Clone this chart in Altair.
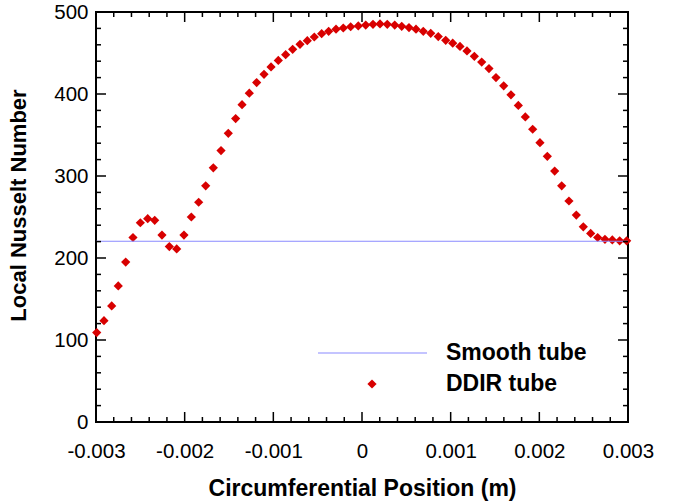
import altair as alt
import pandas as pd

# ---- data ----
position_m = [
    -0.002992, -0.002910, -0.002823, -0.002749, -0.002665, -0.002583, -0.002500, -0.002417,
    -0.002338, -0.002256, -0.002173, -0.002090, -0.002008, -0.001925, -0.001842, -0.001763,
    -0.001677, -0.001590, -0.001508, -0.001425, -0.001353, -0.001271, -0.001188, -0.001105,
    -0.001026, -0.000944, -0.000861, -0.000782, -0.000699, -0.000617, -0.000538, -0.000455,
    -0.000376, -0.000293, -0.000211, -0.000128, -0.000042, 0.000042, 0.000124, 0.000203,
    0.000285, 0.000369, 0.000448, 0.000530, 0.000609, 0.000691, 0.000775, 0.000860,
    0.000944, 0.001023, 0.001105, 0.001184, 0.001267, 0.001350, 0.001432, 0.001511,
    0.001598, 0.001680, 0.001763, 0.001842, 0.001925, 0.002007, 0.002090, 0.002173,
    0.002252, 0.002334, 0.002417, 0.002496, 0.002579, 0.002658, 0.002740, 0.002823,
    0.002906, 0.002985,
]
ddir_nu = [
    109, 123.5, 141.5, 166, 195, 225, 243, 248,
    246, 228, 214, 211, 228, 250, 268, 288,
    310, 331, 352, 370, 387, 401, 414, 424,
    433, 441, 448, 454.5, 460.6, 465, 469.5, 473.5,
    476.5, 479, 480.5, 482, 483, 484, 485, 485.4,
    485, 484, 482.5, 481, 479, 476.5, 474, 470,
    465.5, 462, 458, 452.5, 446, 439, 431, 420,
    410, 399, 386, 372, 357, 340.6, 324, 306,
    288, 269.5, 252.4, 238, 230, 225, 222.8, 222,
    221, 221,
]
smooth_nu = [220.4]
series_names = ["Smooth tube", "DDIR tube"]

x_major = [-0.003, -0.002, -0.001, 0.0, 0.001, 0.002, 0.003]
x_minor = [round(-0.003 + 0.0002 * i, 4) for i in range(31) if i % 5 != 0]
y_major = [0, 100, 200, 300, 400, 500]
y_minor = [20 * i for i in range(26) if i % 5 != 0]

W, H = 532, 410
FONT = "Liberation Sans"
RED = "#d80000"
BLUE = "#8a8aff"

xscale = alt.Scale(domain=[-0.003, 0.003], nice=False, zero=False)
yscale = alt.Scale(domain=[0, 500], nice=False)

XAXIS = alt.Axis(
    values=x_major, grid=False, ticks=False, tickSize=0, domain=False,
    labelExpr="datum.value == 0 ? '0' : (datum.value < 0 ? '-' : '') + format(abs(datum.value), '.3f')",
    labelFont=FONT, labelFontSize=20.5, labelColor="black", labelPadding=19,
    labelFlush=False, labelOverlap=False,
    title="Circumferential Position (m)", titleFont=FONT, titleFontSize=23,
    titleFontWeight="bold", titleColor="black", titleY=55, titleBaseline="top")
YAXIS = alt.Axis(
    values=y_major, grid=False, ticks=False, tickSize=0, domain=False,
    labelFont=FONT, labelFontSize=20.5, labelColor="black", labelPadding=8,
    labelFlush=False, labelOverlap=False,
    title="Local Nusselt Number", titleFont=FONT, titleFontSize=22,
    titleFontWeight="bold", titleColor="black", titleX=-66, titleY=193)

def X(field):
    return alt.X(field, type="quantitative", scale=xscale, axis=XAXIS)

def Y(field):
    return alt.Y(field, type="quantitative", scale=yscale, axis=YAXIS)

pts = pd.DataFrame({"x": position_m, "y": ddir_nu})

scatter = alt.Chart(pts).mark_point(
    shape="diamond", filled=True, size=85, color=RED, opacity=1
).encode(x=X("x"), y=Y("y"))

smooth = alt.Chart(pd.DataFrame({"y": smooth_nu})).mark_rule(
    color=BLUE, strokeWidth=1.2
).encode(y=Y("y"), x=alt.value(0), x2=alt.value(W))

def xticks(vals, length):
    d = pd.DataFrame({"v": vals})
    bottom = alt.Chart(d).mark_rule(color="black", strokeWidth=1.5).encode(
        x=X("v"), y=alt.value(H), y2=alt.value(H - length))
    top = alt.Chart(d).mark_rule(color="black", strokeWidth=1.5).encode(
        x=X("v"), y=alt.value(0), y2=alt.value(length))
    return [bottom, top]

def yticks(vals, length):
    d = pd.DataFrame({"v": vals})
    left = alt.Chart(d).mark_rule(color="black", strokeWidth=1.5).encode(
        y=Y("v"), x=alt.value(0), x2=alt.value(length))
    right = alt.Chart(d).mark_rule(color="black", strokeWidth=1.5).encode(
        y=Y("v"), x=alt.value(W), x2=alt.value(W - length))
    return [left, right]

tick_layers = xticks(x_major, 10) + xticks(x_minor, 5) + yticks(y_major, 10) + yticks(y_minor, 5)

# ---- manual legend ----
leg1 = pd.DataFrame({"label": [series_names[0]]})
leg2 = pd.DataFrame({"label": [series_names[1]]})
leg_line = alt.Chart(leg1).mark_rule(color=BLUE, strokeWidth=1.2).encode(
    x=alt.value(222), x2=alt.value(331), y=alt.value(341))
leg_pt = alt.Chart(leg2).mark_point(shape="diamond", filled=True, size=85, color=RED, opacity=1).encode(
    x=alt.value(276), y=alt.value(372))
leg_t1 = alt.Chart(leg1).mark_text(align="left", baseline="middle", font=FONT, fontSize=23,
                                   fontWeight="bold", color="black").encode(
    text="label:N", x=alt.value(350), y=alt.value(341))
leg_t2 = alt.Chart(leg2).mark_text(align="left", baseline="middle", font=FONT, fontSize=23,
                                   fontWeight="bold", color="black").encode(
    text="label:N", x=alt.value(350), y=alt.value(372))

chart = alt.layer(
    scatter, smooth, *tick_layers, leg_line, leg_pt, leg_t1, leg_t2
).properties(
    width=W, height=H,
    autosize=alt.AutoSizeParams(type="none"),
    padding={"left": 96, "top": 12, "right": 45, "bottom": 81},
    background="white",
).configure_view(stroke="black", strokeWidth=2)

chart.save("out.html", embed_options={"renderer": "svg", "actions": False})
